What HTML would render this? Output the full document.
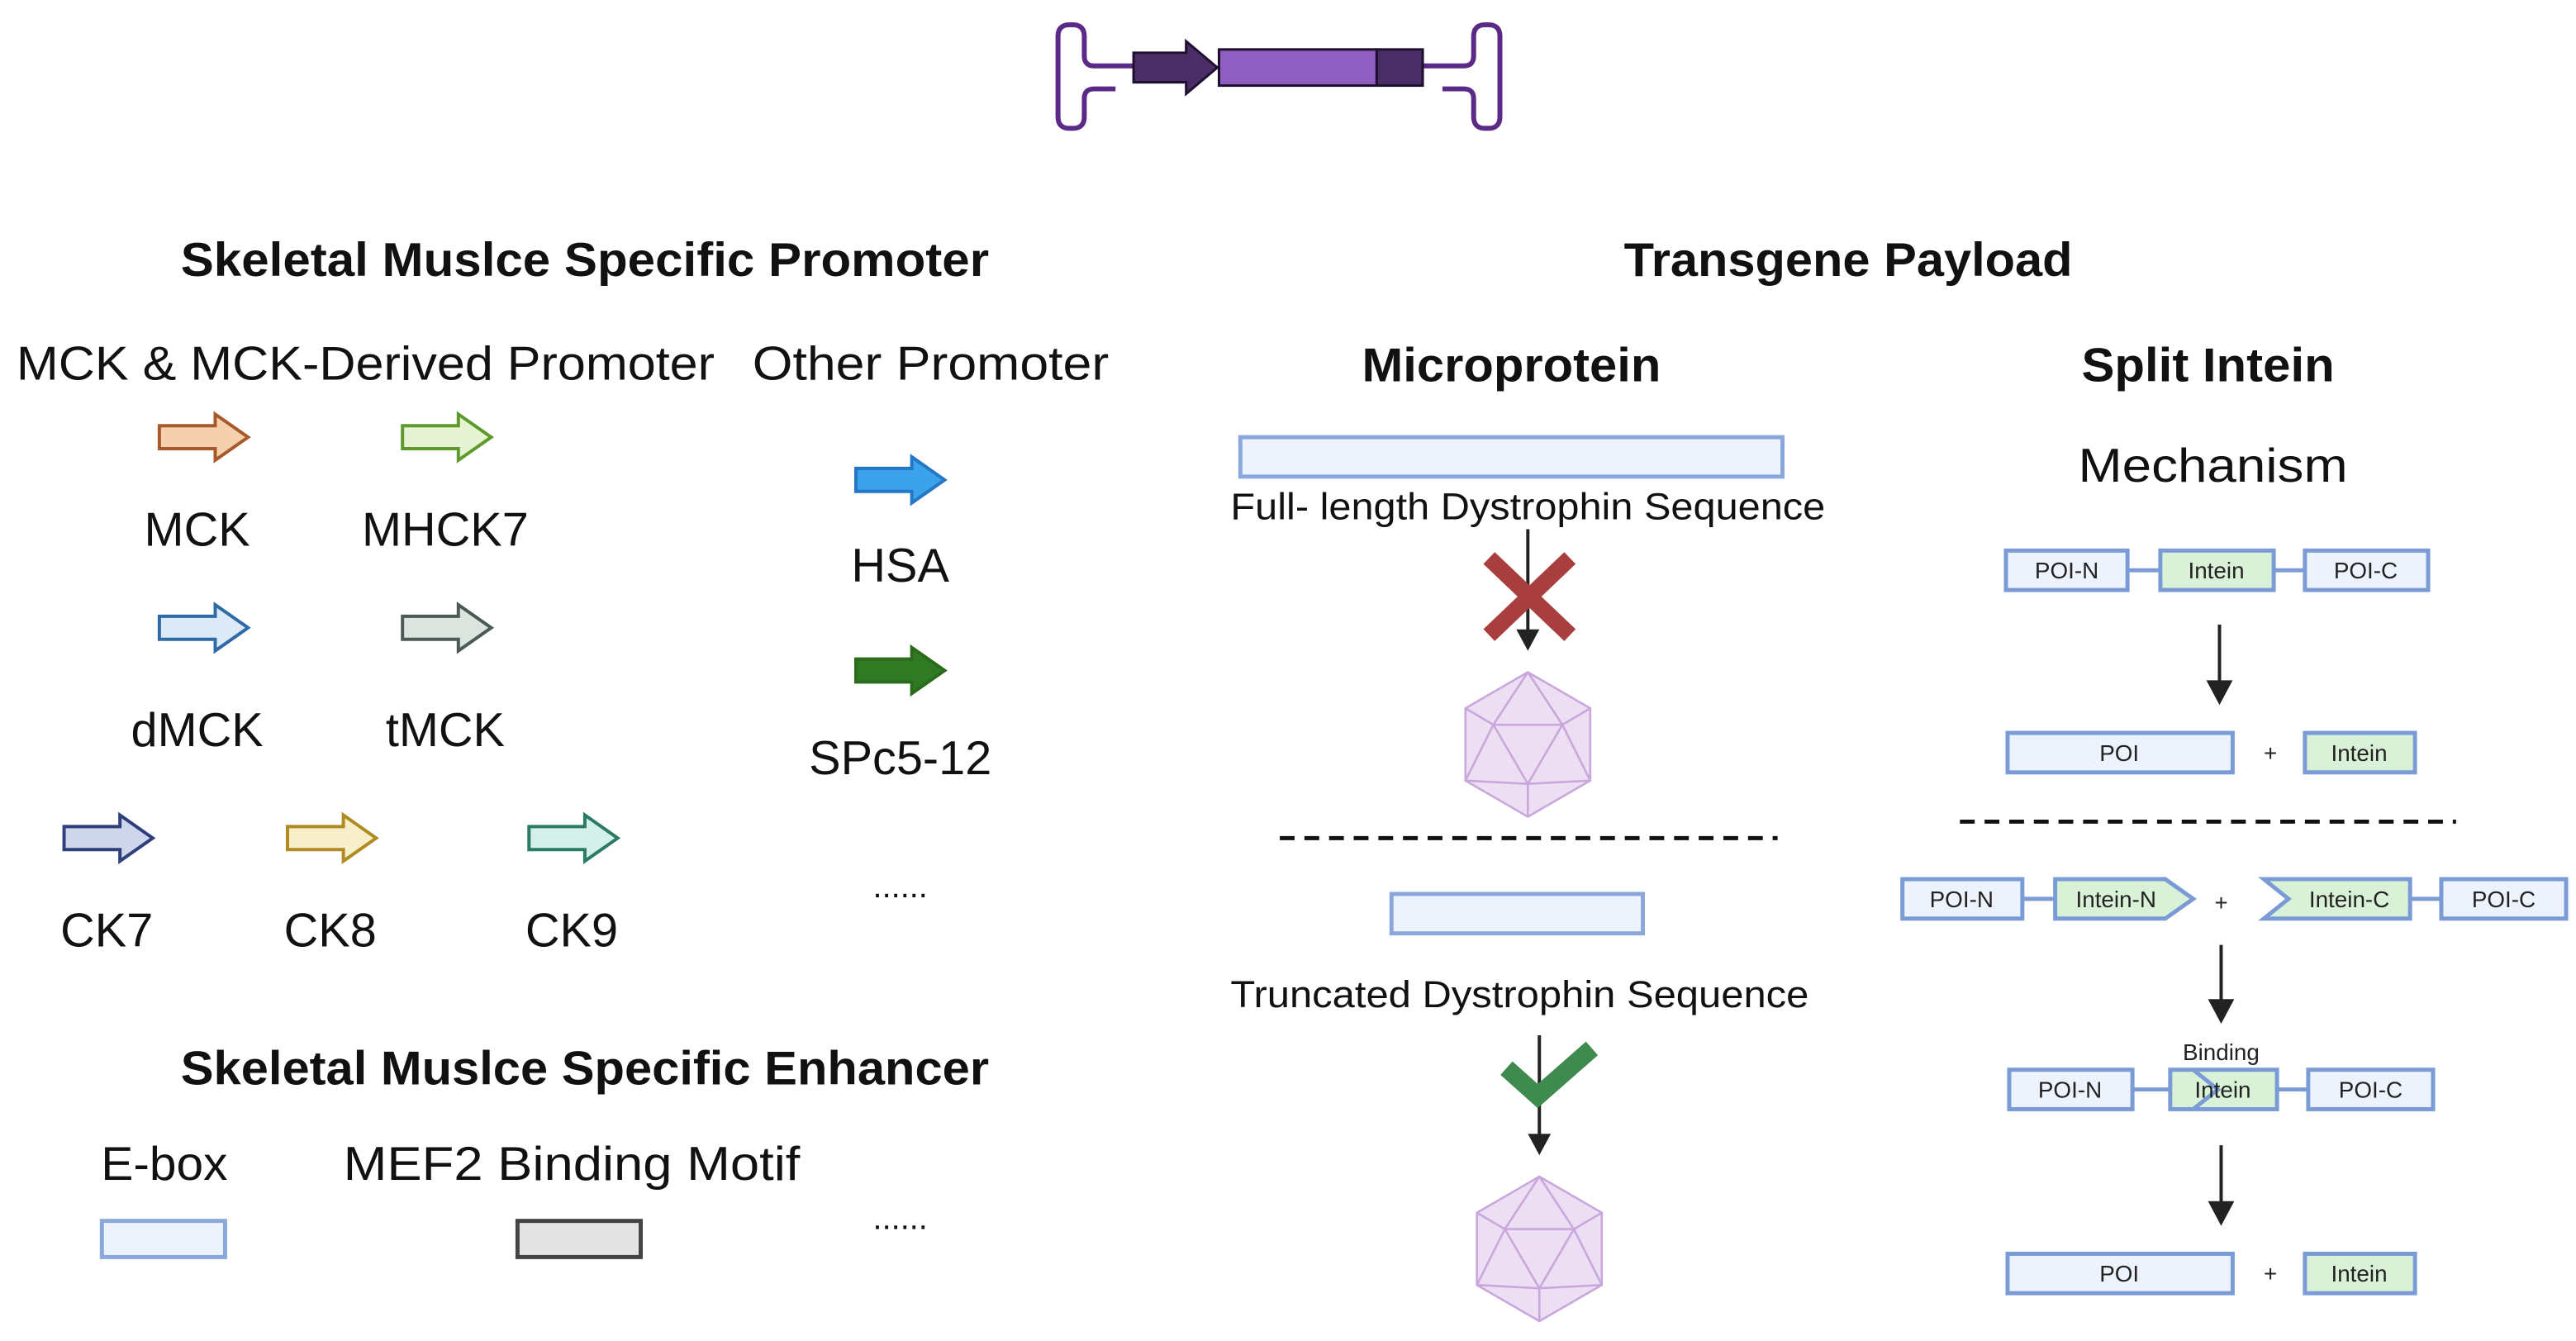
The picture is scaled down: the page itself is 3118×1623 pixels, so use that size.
<!DOCTYPE html>
<html><head><meta charset="utf-8"><style>html,body{margin:0;padding:0;background:#fff}svg{display:block}</style></head>
<body>
<svg width="3118" height="1623" viewBox="0 0 1568 816" xmlns="http://www.w3.org/2000/svg" font-family="Liberation Sans, sans-serif">
<defs>
<path id="arr" d="M0,7 H34 V0 L54,14 L34,28 V21 H0 Z"/>
<g id="ico" fill="none" stroke="#c9a6dc" stroke-width="1.3">
<polygon points="0,-44 38,-22 38,22 0,44 -38,22 -38,-22" fill="#ecdff4"/>
<polygon points="-21,-12 21,-12 0,24"/>
<path d="M0,-44 L-21,-12 M0,-44 L21,-12 M-38,-22 L-21,-12 M38,-22 L21,-12 M-38,22 L-21,-12 M38,22 L21,-12 M-38,22 L0,24 M38,22 L0,24 M0,44 L0,24"/>
</g>
</defs>
<rect width="1568" height="816" fill="#fff"/>

<!-- vector -->
<g fill="none" stroke="#5b2a86" stroke-width="3">
<path d="M692,40 H666 Q660,40 660,34 V22 Q660,15 653,15 H651 Q644,15 644,22 V71 Q644,78 651,78 H653 Q660,78 660,71 V60 Q660,54 666,54 H679"/>
<path d="M866,40 H891 Q897,40 897,34 V22 Q897,15 904,15 H906 Q913,15 913,22 V71 Q913,78 906,78 H904 Q897,78 897,71 V60 Q897,54 891,54 H878"/>
</g>
<path d="M348,0" />
<path d="M348,0"/>
<path d="M348,0"/>
<path d="M348,0"/>
<polygon points="347,0" />
<polygon points="347,0"/>
<polygon points="347,0"/>
<polygon points="1347,0"/>
<polygon points="348,0"/>
<polygon points="348,0"/>
<g stroke="#1e0f2e" stroke-width="1.5">
<polygon points="1347,0" fill="none" stroke="none"/>
<polygon points="348,0" fill="none" stroke="none"/>
<polygon points="348,0" fill="none" stroke="none"/>
<polygon points="348,0" fill="none" stroke="none"/>
<polygon points="348,0" fill="none" stroke="none"/>
<polygon points="348,0" fill="none" stroke="none"/>
<polygon points="348,0" fill="none" stroke="none"/>
<polygon points="348,0" fill="none" stroke="none"/>
<polygon points="348,0" fill="none" stroke="none"/>
<polygon points="348,0" fill="none" stroke="none"/>
<polygon points="348,0" fill="none" stroke="none"/>
<polygon points="690,32 722,32 722,25 741,41 722,57 722,50 690,50" fill="#4a2d66" transform="translate(0,0)"/>
<rect x="742" y="30" width="96" height="22" fill="#8e5fc0"/>
<rect x="838" y="30" width="28" height="22" fill="#4a2d66"/>
</g>

<!-- left headings -->
<g fill="#111">
<text x="356" y="168" font-size="29" font-weight="bold" text-anchor="middle" textLength="492" lengthAdjust="spacingAndGlyphs">Skeletal Muslce Specific Promoter</text>
<text x="1125" y="168" font-size="29" font-weight="bold" text-anchor="middle" textLength="273" lengthAdjust="spacingAndGlyphs">Transgene Payload</text>
<text x="10" y="231" font-size="29" textLength="425" lengthAdjust="spacingAndGlyphs">MCK &amp; MCK-Derived Promoter</text>
<text x="458" y="231" font-size="29" textLength="217" lengthAdjust="spacingAndGlyphs">Other Promoter</text>
<g font-size="29" text-anchor="middle">
<text x="120" y="332">MCK</text>
<text x="271" y="332">MHCK7</text>
<text x="548" y="354">HSA</text>
<text x="120" y="454">dMCK</text>
<text x="271" y="454">tMCK</text>
<text x="548" y="471">SPc5-12</text>
<text x="65" y="576">CK7</text>
<text x="201" y="576">CK8</text>
<text x="348" y="576">CK9</text>
<text x="548" y="546" font-size="20">......</text>
<text x="548" y="748" font-size="20">......</text>
</g>
<text x="356" y="660" font-size="29" font-weight="bold" text-anchor="middle" textLength="492" lengthAdjust="spacingAndGlyphs">Skeletal Muslce Specific Enhancer</text>
<text x="100" y="718" font-size="29" text-anchor="middle" textLength="77" lengthAdjust="spacingAndGlyphs">E-box</text>
<text x="348" y="718" font-size="29" text-anchor="middle" textLength="278" lengthAdjust="spacingAndGlyphs">MEF2 Binding Motif</text>
</g>

<!-- promoter arrows -->
<g stroke-width="2">
<use href="#arr" x="97" y="252" fill="#f5cfae" stroke="#a8592a"/>
<use href="#arr" x="245" y="252" fill="#e6f3d3" stroke="#5c9a2c"/>
<use href="#arr" x="521" y="278" fill="#3aa3ea" stroke="#2377c4"/>
<use href="#arr" x="97" y="368" fill="#dceaf7" stroke="#2f6aa8"/>
<use href="#arr" x="245" y="368" fill="#dbe4df" stroke="#4b5a55"/>
<use href="#arr" x="521" y="394" fill="#2f7a22" stroke="#2a6b1c"/>
<use href="#arr" x="39" y="496" fill="#cfd5ea" stroke="#2e3f7c"/>
<use href="#arr" x="175" y="496" fill="#f7efc9" stroke="#b08a22"/>
<use href="#arr" x="322" y="496" fill="#d5f0ea" stroke="#2a7a68"/>
</g>
<rect x="62" y="743" width="75" height="22" fill="#edf3fc" stroke="#8aa8dc" stroke-width="2.5"/>
<rect x="315" y="743" width="75" height="22" fill="#e4e4e4" stroke="#444" stroke-width="2.5"/>

<!-- microprotein -->
<text x="920" y="232" font-size="29" font-weight="bold" text-anchor="middle" textLength="182" lengthAdjust="spacingAndGlyphs" fill="#111">Microprotein</text>
<rect x="755" y="266" width="330" height="24" fill="#edf3fc" stroke="#8aa8dc" stroke-width="2.5"/>
<text x="930" y="316" font-size="23" text-anchor="middle" textLength="362" lengthAdjust="spacingAndGlyphs" fill="#111">Full- length Dystrophin Sequence</text>
<line x1="930" y1="322" x2="930" y2="385" stroke="#222" stroke-width="2"/>
<polygon points="923,383 937,383 930,396" fill="#222"/>
<g stroke="#a93e3e" stroke-width="10" stroke-linecap="square">
<line x1="910" y1="343" x2="952" y2="383"/><line x1="952" y1="343" x2="910" y2="383"/>
</g>
<use href="#ico" x="930" y="453"/>
<line x1="779" y1="510" x2="1082" y2="510" stroke="#111" stroke-width="2.5" stroke-dasharray="9,6"/>
<rect x="847" y="544" width="153" height="24" fill="#edf3fc" stroke="#8aa8dc" stroke-width="2.5"/>
<text x="925" y="613" font-size="23" text-anchor="middle" textLength="352" lengthAdjust="spacingAndGlyphs" fill="#111">Truncated Dystrophin Sequence</text>
<line x1="937" y1="630" x2="937" y2="692" stroke="#222" stroke-width="2"/>
<polygon points="930,690 944,690 937,703" fill="#222"/>
<polyline points="917,650 936,667 969,638" fill="none" stroke="#3f8a4f" stroke-width="11"/>
<use href="#ico" x="937" y="760"/>

<!-- split intein -->
<text x="1344" y="232" font-size="29" font-weight="bold" text-anchor="middle" textLength="154" lengthAdjust="spacingAndGlyphs" fill="#111">Split Intein</text>
<text x="1347" y="293" font-size="29" text-anchor="middle" textLength="164" lengthAdjust="spacingAndGlyphs" fill="#111">Mechanism</text>
<g stroke="#7a9bd6" stroke-width="2.5" font-size="14" text-anchor="middle">
<line x1="1295" y1="347" x2="1403" y2="347"/>
<rect x="1221" y="335" width="74" height="24" fill="#edf3fc"/>
<rect x="1315" y="335" width="69" height="24" fill="#d9f2d7"/>
<rect x="1403" y="335" width="75" height="24" fill="#edf3fc"/>
<rect x="1222" y="446" width="137" height="24" fill="#edf3fc"/>
<rect x="1403" y="446" width="67" height="24" fill="#d9f2d7"/>
<line x1="1231" y1="547" x2="1251" y2="547"/>
<line x1="1467" y1="547" x2="1486" y2="547"/>
<rect x="1158" y="535" width="73" height="24" fill="#edf3fc"/>
<polygon points="1251,535 1318,535 1335,547 1318,559 1251,559" fill="#d9f2d7"/>
<polygon points="1378,535 1467,535 1467,559 1378,559 1393,547" fill="#d9f2d7"/>
<rect x="1486" y="535" width="76" height="24" fill="#edf3fc"/>
<line x1="1298" y1="663" x2="1405" y2="663"/>
<rect x="1223" y="651" width="75" height="24" fill="#edf3fc"/>
<rect x="1321" y="651" width="65" height="24" fill="#d9f2d7"/>
<polyline points="1335,651 1350,663 1335,675" fill="none"/>
<rect x="1405" y="651" width="76" height="24" fill="#edf3fc"/>
<rect x="1222" y="763" width="137" height="24" fill="#edf3fc"/>
<rect x="1403" y="763" width="67" height="24" fill="#d9f2d7"/>
</g>
<g font-size="14" text-anchor="middle" fill="#222">
<text x="1258" y="352">POI-N</text><text x="1349" y="352">Intein</text><text x="1440" y="352">POI-C</text>
<text x="1290" y="463">POI</text><text x="1382" y="463">+</text><text x="1436" y="463">Intein</text>
<text x="1194" y="552">POI-N</text><text x="1288" y="552">Intein-N</text><text x="1352" y="554">+</text><text x="1430" y="552">Intein-C</text><text x="1524" y="552">POI-C</text>
<text x="1352" y="645">Binding</text>
<text x="1260" y="668">POI-N</text><text x="1353" y="668">Intein</text><text x="1443" y="668">POI-C</text>
<text x="1290" y="780">POI</text><text x="1382" y="780">+</text><text x="1436" y="780">Intein</text>
</g>
<g stroke="#222" stroke-width="2">
<line x1="1351" y1="380" x2="1351" y2="416"/>
<line x1="1352" y1="575" x2="1352" y2="610"/>
<line x1="1352" y1="697" x2="1352" y2="733"/>
</g>
<g fill="#222">
<polygon points="1343,414 1359,414 1351,429"/>
<polygon points="1344,608 1360,608 1352,623"/>
<polygon points="1344,731 1360,731 1352,746"/>
</g>
<line x1="1193" y1="500" x2="1495" y2="500" stroke="#111" stroke-width="2.5" stroke-dasharray="9,6"/>
</svg>
</body></html>
